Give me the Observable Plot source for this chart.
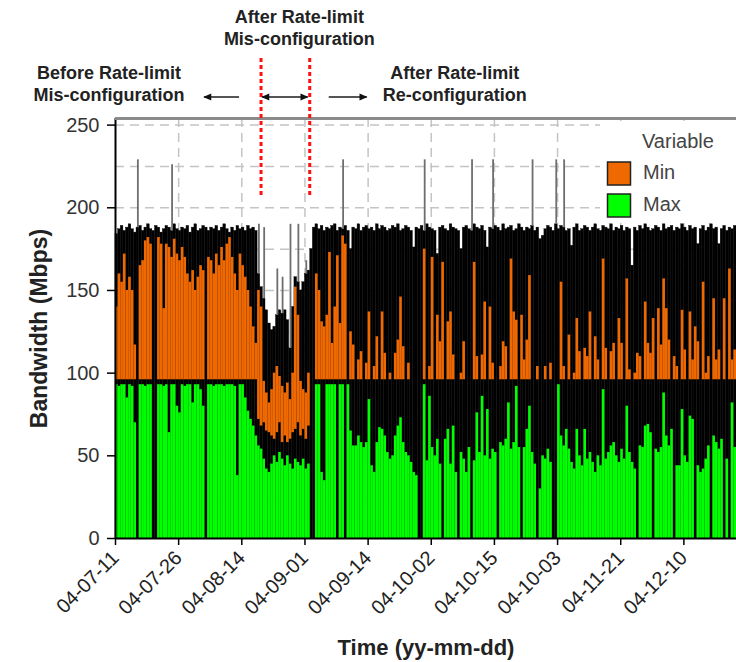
<!DOCTYPE html>
<html><head><meta charset="utf-8">
<script src="https://cdn.jsdelivr.net/npm/d3@7"></script>
<script src="https://cdn.jsdelivr.net/npm/@observablehq/plot@0.6"></script>
<style>
html,body{margin:0;padding:0;background:#fff;}
#chart{width:736px;height:662px;overflow:hidden;}
</style></head><body><div id="chart"></div>
<script>
// x tick labels (categorical time axis, one label every 24 samples)
const tickLabels = ["04-07-11","04-07-26","04-08-14","04-09-01","04-09-14","04-10-02","04-10-15","04-10-03","04-11-21","04-12-10"];
const samplesPerTick = 24;

// overall top of each sample column (black envelope), Mbps
const envTop = [
184,187,189,186,188,190,187,185,188,189,186,188,
190,187,186,189,188,185,187,189,188,186,190,187,
186,188,187,189,185,188,190,186,187,189,188,186,
188,187,189,186,188,190,187,185,188,186,189,187,
188,186,189,187,188,186,160,152,145,138,130,126,
128,135,138,136,138,132,115,140,158,155,150,155,
160,162,175,188,190,187,189,186,188,187,189,190,
186,188,187,189,186,175,188,187,190,186,188,189,
187,188,186,190,187,189,188,186,187,189,188,190,
186,187,189,188,186,176,188,187,189,186,190,188,
187,186,172,188,189,187,186,190,188,187,186,175,
188,189,187,186,190,188,187,189,186,176,188,187,
189,188,186,190,187,188,189,186,187,190,188,186,
188,187,189,186,188,181,183,187,189,188,186,190,
187,189,188,186,187,177,188,190,186,187,189,188,
186,188,190,187,186,189,188,187,190,186,188,187,
189,186,188,187,165,188,186,189,187,190,188,186,
187,189,188,186,190,187,188,189,186,188,187,190,
188,186,189,187,188,178,187,189,186,188,190,187,
188,178,187,189,186,188,187,189];

// "Max" series (green), Mbps
const maxVal = [
93,92,93,93,85,93,92,70,0,93,93,92,
93,93,0,0,93,93,92,93,64,93,93,80,
76,93,92,93,93,82,93,93,90,80,0,93,
93,92,93,93,93,92,93,93,93,92,38,93,
93,85,77,72,68,62,56,54,48,42,40,45,
50,46,52,48,44,50,45,42,48,46,44,48,
42,45,0,0,93,93,40,35,93,93,93,93,
0,93,93,0,93,65,56,56,62,58,55,58,
84,44,40,58,67,66,62,52,48,50,62,68,
73,58,52,50,46,40,38,0,0,93,47,86,
55,50,60,45,0,60,66,45,68,40,0,52,
48,40,55,0,47,76,52,86,50,78,48,54,
52,0,58,56,60,82,54,58,92,55,0,55,
66,80,52,45,0,30,50,48,54,46,0,0,
93,62,56,66,54,46,42,66,50,44,66,48,
52,46,40,50,44,90,48,52,56,58,50,46,
54,48,80,52,46,42,0,56,55,68,69,64,
0,54,52,55,88,62,56,66,0,44,44,78,
50,46,74,72,0,44,40,42,48,56,0,62,
58,54,60,0,48,0,82,55];

// "Min" series (orange): top of each bar, Mbps
const minHigh = [
140,160,155,172,150,158,150,117,96,165,168,180,
182,178,96,96,182,178,139,178,176,170,181,172,
168,176,170,160,155,162,150,158,165,162,96,170,
168,160,172,165,176,168,178,182,170,160,150,172,
165,158,150,140,128,118,150,140,95,88,82,90,
100,104,98,92,88,94,84,100,152,135,95,90,
88,100,96,96,160,150,131,128,135,173,118,140,
171,130,183,178,96,125,117,96,108,113,96,106,
137,96,104,122,96,137,112,96,100,96,112,120,
146,116,96,106,96,96,96,96,96,175,96,104,
170,96,135,119,167,96,131,137,111,96,96,100,
119,96,96,96,167,110,96,111,143,96,140,106,
96,96,104,119,116,96,169,137,132,96,135,108,
120,159,96,96,104,96,96,104,96,106,96,96,
96,155,104,96,123,96,100,133,113,96,115,110,
137,96,122,108,96,169,115,96,113,118,96,133,
118,96,157,102,96,100,112,110,96,143,118,112,
133,96,139,117,157,139,120,96,110,104,96,138,
114,96,137,108,128,119,96,155,100,110,96,145,
108,114,96,145,96,163,108,114];

// "Min" bar base: normally 96 Mbps; lower during the mis-configuration window
const minBase = 96;
const misStart = 54;
const misMinLow = [72,68,70,65,64,62,60,64,70,58,62,58,60,64,66,70,62,66,60,68];

// isolated peaks (thin grey lines above the envelope)
const spikeIdx = [8,21,54,56,61,63,66,69,72,86,117,135,143,158,167,170];
const spikeVal = [229,226,190,188,163,158,190,190,168,229,229,229,229,229,229,229];

// mis-configuration window boundaries (sample index)
const phaseBreaks = [55.5, 74];
const phaseTexts = [["Before Rate-limit","Mis-configuration"],["After Rate-limit","Mis-configuration"],["After Rate-limit","Re-configuration"]];

const legendItems = [{name:"Min", color:"#f06800"},{name:"Max", color:"#00ff00"}];

const bars = envTop.map((env, i) => ({
  i, env, max: maxVal[i], hi: minHigh[i],
  lo: (i >= misStart && i < misStart + misMinLow.length) ? misMinLow[i - misStart] : minBase
}));
const spikes = spikeIdx.map((i, k) => ({i, v: spikeVal[k]}));
const tickPos = tickLabels.map((_, k) => k * samplesPerTick);

const FONT = "'Liberation Sans', Arial, Helvetica, sans-serif";
const gridStyle = {stroke: "#c4c4c4", strokeOpacity: 1, strokeWidth: 1.5, strokeDasharray: "9,6"};

const plot = Plot.plot({
  width: 736, height: 662,
  marginLeft: 115, marginRight: 0, marginTop: 118, marginBottom: 124,
  style: {fontFamily: FONT, background: "#fff", overflow: "visible"},
  x: {domain: [0, envTop.length], axis: null},
  y: {domain: [0, 254], axis: null},
  marks: [
    Plot.gridY(d3.range(25, 251, 25), gridStyle),
    Plot.gridX(tickPos.slice(1), gridStyle),
    Plot.rect(bars, {x1: "i", x2: d => d.i + 1, y1: 0, y2: "env", fill: "#000", stroke: "#000", strokeWidth: 0.4}),
    Plot.rect(bars.filter(d => d.max > 0), {x1: "i", x2: d => d.i + 1, y1: 0, y2: "max", fill: legendItems[1].color}),
    Plot.rect(bars.filter(d => d.hi > d.lo), {x1: "i", x2: d => d.i + 1, y1: "lo", y2: "hi", fill: legendItems[0].color}),
    Plot.ruleX(spikes, {x: d => d.i + 0.5, y1: d => envTop[d.i], y2: "v", stroke: "#6e6e6e", strokeWidth: 1.8}),
    Plot.axisY({ticks: d3.range(0, 251, 50), tickSize: 8, tickPadding: 8, fontSize: 20, stroke: "#000", strokeWidth: 1.5, fill: "#333", label: null}),
    Plot.axisX({ticks: tickPos, tickFormat: d => tickLabels[Math.round(d / samplesPerTick)], tickRotate: -45, tickSize: 7, tickPadding: 9, fontSize: 20, stroke: "#000", strokeWidth: 1.5, fill: "#222", label: null}),
    Plot.ruleY([0], {stroke: "#000", strokeWidth: 2}),
    Plot.ruleX([0], {stroke: "#000", strokeWidth: 2}),
    Plot.ruleY([254], {stroke: "#8a8a8a", strokeWidth: 3}),
    Plot.text(["Time (yy-mm-dd)"], {frameAnchor: "bottom", dy: 109, textAnchor: "middle", lineAnchor: "middle", fontSize: 22, fontWeight: "bold", fill: "#222"}),
    Plot.text(["Bandwidth (Mbps)"], {frameAnchor: "left", dx: -76, rotate: -90, textAnchor: "middle", lineAnchor: "middle", fontSize: 23, fontWeight: "bold", fill: "#222"})
  ]
});
document.getElementById("chart").appendChild(plot);

// ---- annotations and legend, positioned through the plot's x scale ----
const svg = d3.select(plot);
const sx = plot.scale("x");
const X = sx.apply ? (v => sx.apply(v)) : d3.scaleLinear(sx.domain, sx.range);
const X0 = X(phaseBreaks[0]), X1 = X(phaseBreaks[1]);

const defs = svg.append("defs");
defs.append("marker").attr("id", "ah").attr("viewBox", "0 0 10 10")
  .attr("refX", 9).attr("refY", 5).attr("markerWidth", 9).attr("markerHeight", 8)
  .attr("markerUnits", "userSpaceOnUse").attr("orient", "auto-start-reverse")
  .append("path").attr("d", "M0,0.5L10,5L0,9.5z").attr("fill", "#111");

const ann = svg.append("g").attr("font-family", FONT).attr("font-weight", "bold").attr("font-size", 18).attr("fill", "#222").attr("text-anchor", "middle");
function twoLines(cx, y0, lines) {
  lines.forEach((t, k) => ann.append("text").attr("x", cx).attr("y", y0 + k * 22).attr("dominant-baseline", "middle").text(t));
}
twoLines(X0 - 152, 74, phaseTexts[0]);
twoLines((X0 + X1) / 2 + 14, 18.5, phaseTexts[1]);
twoLines(X1 + 145, 74, phaseTexts[2]);

[X0, X1].forEach(x => svg.append("line").attr("x1", x).attr("x2", x).attr("y1", 58).attr("y2", 196)
  .attr("stroke", "#ff1010").attr("stroke-width", 3).attr("stroke-dasharray", "4,3"));

const arrowY = 97;
const arrows = svg.append("g").attr("stroke", "#555").attr("stroke-width", 2);
arrows.append("line").attr("x1", X0 - 22).attr("x2", X0 - 57).attr("y1", arrowY).attr("y2", arrowY).attr("marker-end", "url(#ah)");
arrows.append("line").attr("x1", X0 + 1).attr("x2", X1 - 2).attr("y1", arrowY).attr("y2", arrowY).attr("marker-end", "url(#ah)").attr("marker-start", "url(#ah)");
arrows.append("line").attr("x1", X1 + 19).attr("x2", X1 + 57).attr("y1", arrowY).attr("y2", arrowY).attr("marker-end", "url(#ah)");

// legend (inside the frame, top right)
const frameRight = 736, frameTop = 118;
const lg = svg.append("g").attr("font-family", FONT).attr("font-size", 20).attr("fill", "#444").attr("text-anchor", "start");
lg.append("rect").attr("x", frameRight - 136).attr("y", frameTop + 3).attr("width", 136).attr("height", 100).attr("fill", "#fff");
lg.append("text").attr("x", frameRight - 94).attr("y", frameTop + 25).attr("dominant-baseline", "middle").text("Variable");
legendItems.forEach((d, k) => {
  const yy = frameTop + 44 + k * 32;
  lg.append("rect").attr("x", frameRight - 128.5).attr("y", yy).attr("width", 23).attr("height", 23)
    .attr("fill", d.color).attr("stroke", "#222").attr("stroke-width", 1.5);
  lg.append("text").attr("x", frameRight - 93).attr("y", yy + 12).attr("dominant-baseline", "middle").text(d.name);
});
</script>
</body></html>
